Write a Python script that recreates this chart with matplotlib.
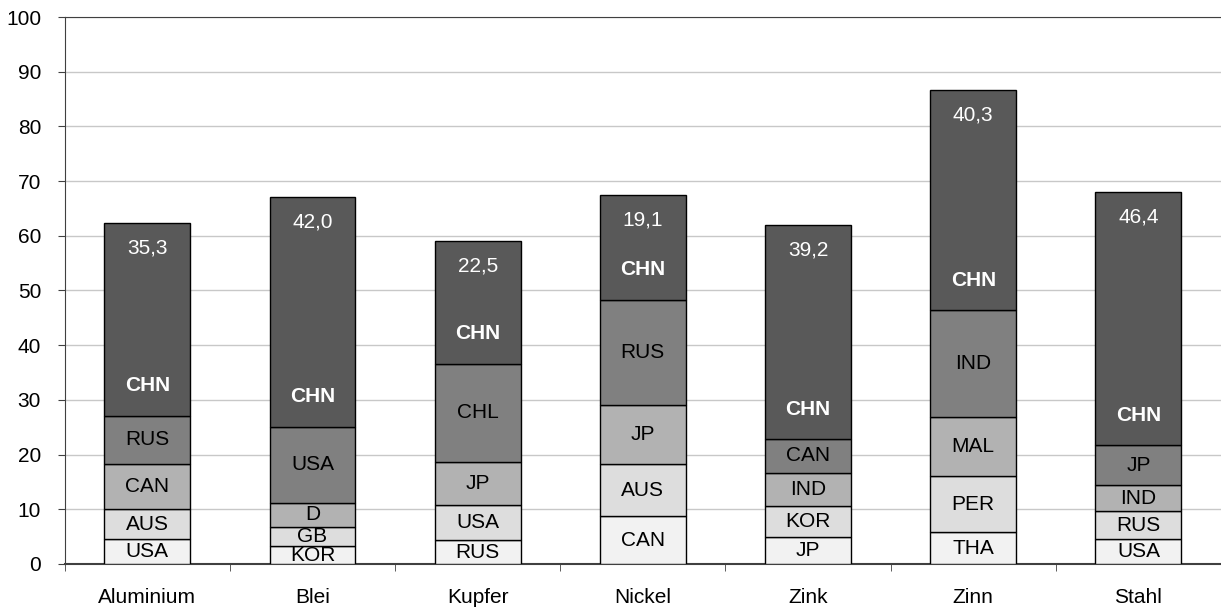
import matplotlib
matplotlib.use("Agg")
import matplotlib.pyplot as plt
import numpy as np

plt.rcParams['font.family'] = ['Liberation Sans', 'DejaVu Sans']

categories = ["Aluminium", "Blei", "Kupfer", "Nickel", "Zink", "Zinn", "Stahl"]

# Layers from bottom (1) to top (5 = China)
layer_values = [
    [4.6, 3.2, 4.3, 8.7, 4.9, 5.8, 4.6],
    [5.4, 3.6, 6.5, 9.6, 5.7, 10.2, 5.0],
    [8.3, 4.3, 7.9, 10.8, 6.1, 10.8, 4.8],
    [8.8, 14.0, 17.9, 19.2, 6.1, 19.6, 7.3],
    [35.3, 42.0, 22.5, 19.1, 39.2, 40.3, 46.4],
]
layer_labels = [
    ["USA", "KOR", "RUS", "CAN", "JP", "THA", "USA"],
    ["AUS", "GB", "USA", "AUS", "KOR", "PER", "RUS"],
    ["CAN", "D", "JP", "JP", "IND", "MAL", "IND"],
    ["RUS", "USA", "CHL", "RUS", "CAN", "IND", "JP"],
    ["CHN", "CHN", "CHN", "CHN", "CHN", "CHN", "CHN"],
]
value_texts = ["35,3", "42,0", "22,5", "19,1", "39,2", "40,3", "46,4"]
yticks = [0, 10, 20, 30, 40, 50, 60, 70, 80, 90, 100]

colors = ["#F2F2F2", "#DDDDDD", "#B2B2B2", "#808080", "#595959"]

fig = plt.figure(figsize=(12.21, 6.09), dpi=100)
ax = fig.add_axes([0.053, 0.074, 0.947, 0.898])

x = np.arange(len(categories))
bottom = np.zeros(len(categories))
fs = 15
for li, vals in enumerate(layer_values):
    vals = np.array(vals)
    ax.bar(x, vals, bottom=bottom, width=0.52, color=colors[li],
           edgecolor="black", linewidth=1.0, zorder=3)
    for i in range(len(categories)):
        if li < 4:
            ax.text(x[i], bottom[i] + vals[i] / 2, layer_labels[li][i],
                    ha="center", va="center", fontsize=fs, color="black", zorder=4)
        else:
            ax.text(x[i], bottom[i] + 5.5, layer_labels[li][i],
                    ha="center", va="center", fontsize=fs, color="white",
                    fontweight="bold", zorder=4)
            ax.text(x[i], bottom[i] + vals[i] - 4.6, value_texts[i],
                    ha="center", va="center", fontsize=fs, color="white", zorder=4)
    bottom = bottom + vals

ax.set_xlim(-0.5, len(categories) - 0.5)
ax.set_ylim(0, 100)
ax.set_yticks(yticks)
ax.set_yticklabels([str(t) for t in yticks], fontsize=fs)
ax.set_xticks(x)
ax.set_xticklabels(categories, fontsize=fs)
ax.tick_params(axis="x", length=0, pad=17)
ax.set_xticks(np.arange(-0.5, len(categories), 1.0), minor=True)
ax.tick_params(axis="x", which="minor", length=5, direction="out", color="#404040")
ax.tick_params(axis="y", length=5, direction="out", color="#404040", pad=12)

ax.grid(axis="y", color="#C8C8C8", linewidth=1.0, zorder=0)
ax.set_axisbelow(True)
ax.spines["right"].set_visible(False)
ax.spines["top"].set_color("#404040")
ax.spines["left"].set_color("#404040")
ax.spines["bottom"].set_color("#404040")
ax.spines["bottom"].set_linewidth(1.5)

fig.savefig("out.png", dpi=100)
